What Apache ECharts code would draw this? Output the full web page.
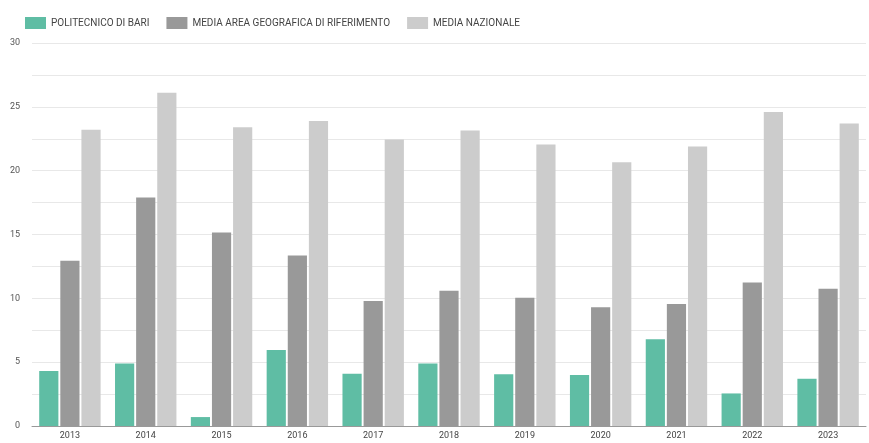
<!DOCTYPE html>
<html><head><meta charset="utf-8">
<script src="https://cdn.jsdelivr.net/npm/echarts@6/dist/echarts.min.js"></script>
<style>html,body{margin:0;padding:0;background:#fff}#c{width:869px;height:443px}</style>
</head><body><div id="c"></div>
<script>
const years = ['2013','2014','2015','2016','2017','2018','2019','2020','2021','2022','2023'];
const seriesNames = ['POLITECNICO DI BARI','MEDIA AREA GEOGRAFICA DI RIFERIMENTO','MEDIA NAZIONALE'];
const politecnico = [4.3, 4.9, 0.7, 5.95, 4.1, 4.9, 4.05, 4.0, 6.8, 2.55, 3.7];
const mediaArea = [12.95, 17.9, 15.15, 13.35, 9.8, 10.6, 10.05, 9.3, 9.55, 11.25, 10.75];
const mediaNazionale = [23.2, 26.1, 23.4, 23.9, 22.45, 23.15, 22.05, 20.65, 21.9, 24.6, 23.7];
const colors = ['#5fbda4', '#999999', '#cccccc'];

const chart = echarts.init(document.getElementById('c'), null, {renderer: 'canvas'});
const mk = (name, data, i) => ({
  name, type: 'bar', data, barGap: '10%', barCategoryGap: '19%',
  itemStyle: {color: colors[i]}
});
chart.setOption({
  animation: false,
  textStyle: {fontFamily: 'Roboto'},
  legend: {
    top: 12, left: 20, itemWidth: 21, itemHeight: 12, itemGap: 17, icon: 'rect',
    textStyle: {fontSize: 10, color: '#444', fontFamily: 'Roboto'},
    data: seriesNames
  },
  grid: {left: 32, right: 3, top: 43, bottom: 17, containLabel: false},
  xAxis: {
    type: 'category', data: years,
    axisLine: {lineStyle: {color: '#999', width: 1}},
    axisTick: {show: false},
    axisLabel: {fontSize: 9, color: '#444', margin: 5}
  },
  yAxis: {
    type: 'value', min: 0, max: 30, interval: 2.5,
    axisLine: {show: false}, axisTick: {show: false},
    splitLine: {lineStyle: {color: '#e8e8e8', width: 1}},
    axisLabel: {fontSize: 9, color: '#555', margin: 12,
      formatter: v => (v % 5 === 0 ? String(v) : '')}
  },
  series: [mk(seriesNames[0], politecnico, 0), mk(seriesNames[1], mediaArea, 1), mk(seriesNames[2], mediaNazionale, 2)]
});
</script></body></html>
